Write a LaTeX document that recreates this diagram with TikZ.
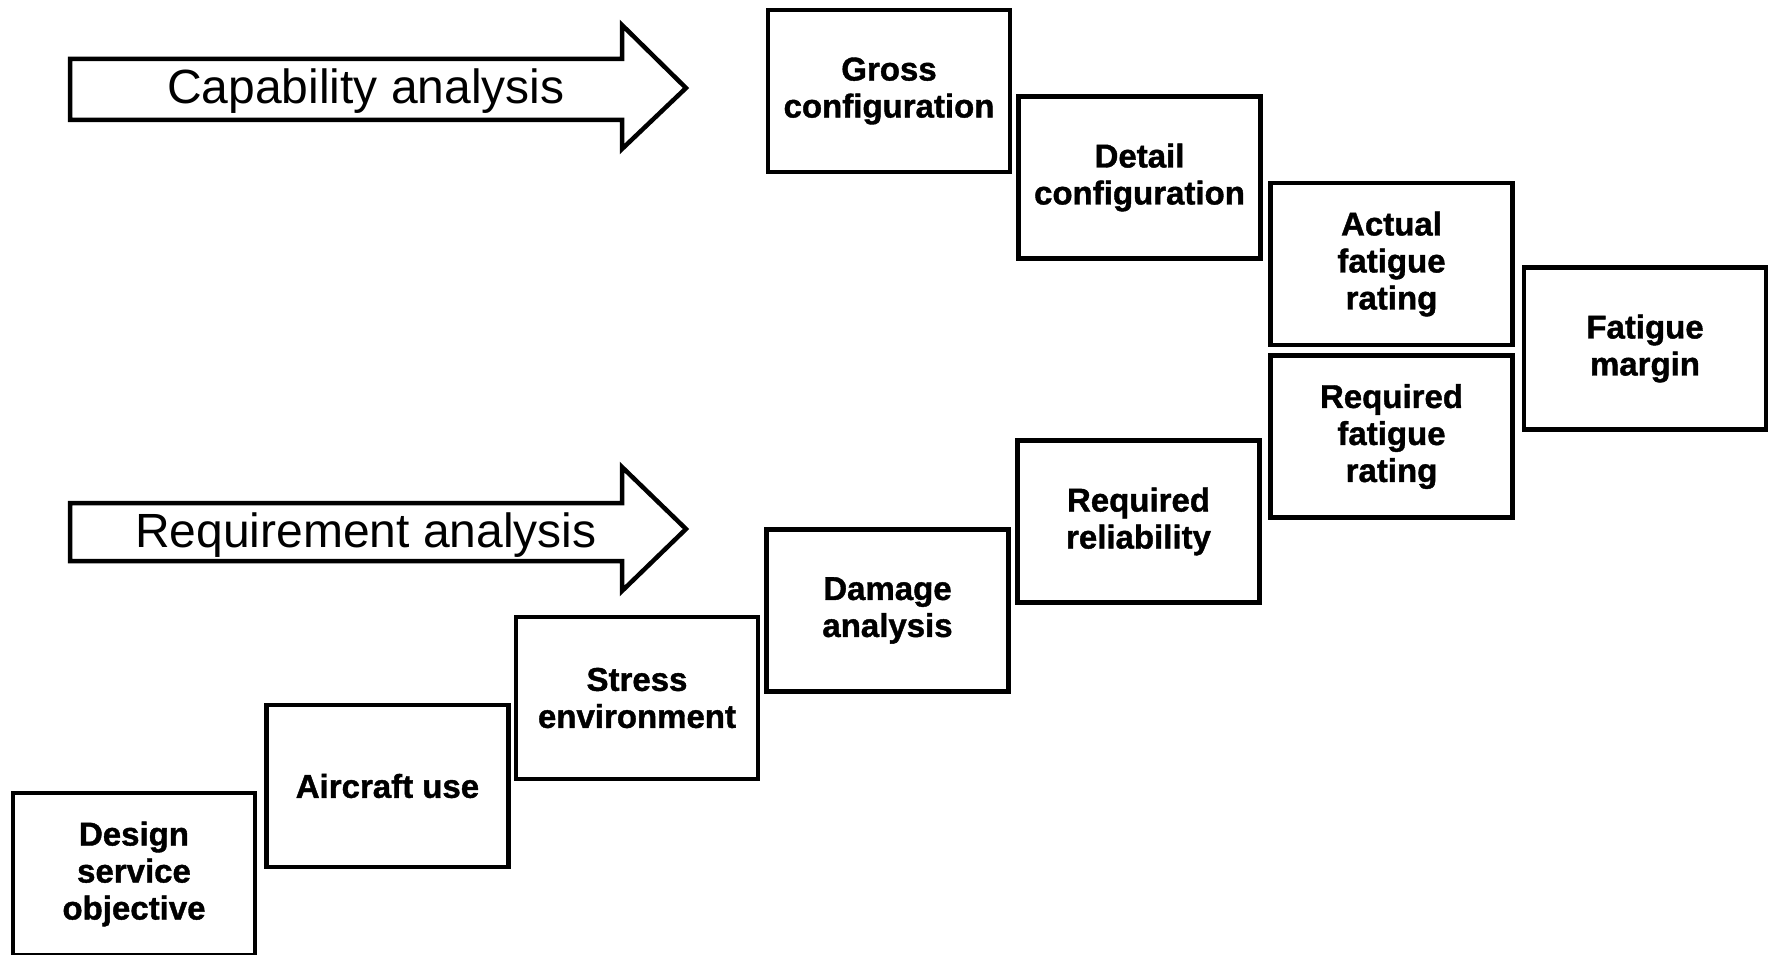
\documentclass[tikz,border=0pt]{standalone}
\usepackage{fontspec}
\setmainfont{Liberation Sans}
\newfontfamily\stagefont[FakeBold=1.2]{Liberation Sans Bold}
\begin{document}
\begin{tikzpicture}[x=1pt,y=-1pt,
  stage/.style={draw=black, line width=4.5pt, fill=white, minimum width=242pt,
    minimum height=162pt, inner sep=0pt, align=center,
    font=\fontsize{33}{37}\selectfont\stagefont},
  bigarrow/.style={draw=black, line width=4.5pt, line join=miter, fill=white},
  arrowlabel/.style={inner sep=0pt, font=\fontsize{48}{56}\selectfont}
]
\useasboundingbox (0,0) rectangle (1772,955);

% two analysis arrows
\draw[bigarrow] (70,59) -- (622,59) -- (622,25) -- (686,88) -- (622,149)
  -- (622,120) -- (70,120) -- cycle;
\node[arrowlabel] (cap) at (366,91) {Capability analysis};

\draw[bigarrow] (70,503) -- (622,503) -- (622,467) -- (686,529) -- (622,591)
  -- (622,561) -- (70,561) -- cycle;
\node[arrowlabel] (req) at (366,535) {Requirement analysis};

% capability staircase
\node[stage] (gross)  at (889,91)    {Gross\\configuration};
\node[stage] (detail) at (1139.5,177.5) {Detail\\configuration};
\node[stage] (actual) at (1391.5,264) {Actual\\fatigue\\rating};

% requirement staircase
\node[stage] (design)   at (134,874)   {Design\\service\\objective};
\node[stage] (aircraft) at (387.5,786) {Aircraft use};
\node[stage] (stress)   at (637,698)   {Stress\\environment};
\node[stage] (damage)   at (887.5,610.5) {Damage\\analysis};
\node[stage] (reliab)   at (1138.5,521.5) {Required\\reliability};
\node[stage] (reqfat)   at (1391.5,436.5) {Required\\fatigue\\rating};

% result
\node[stage] (margin) at (1645,348.5) {Fatigue\\margin};
\end{tikzpicture}
\end{document}
